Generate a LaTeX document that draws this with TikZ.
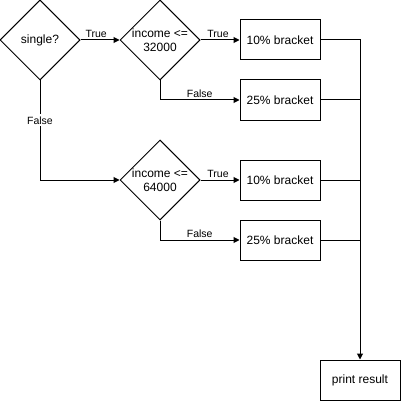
\documentclass[tikz,border=0pt]{standalone}
\usepackage{fontspec}
\setmainfont{Liberation Sans}
\usetikzlibrary{shapes.geometric,arrows.meta}

\begin{document}
\begin{tikzpicture}[x=1pt,y=1pt,line width=1pt,
decision/.style={diamond,draw,minimum width=80pt,minimum height=80pt,
inner sep=-6pt,align=center,font=\fontsize{12}{14}\selectfont},
bracket/.style={rectangle,draw,minimum width=80pt,minimum height=40pt,
font=\fontsize{12}{14}\selectfont},
lbl/.style={font=\fontsize{10.5}{12}\selectfont,inner sep=2pt},
arr/.style={-{Triangle[length=6pt,width=6pt]}}]
\useasboundingbox (0,0) rectangle (401,-401);

% decisions
\node[decision] (single) at (40,-40) {single?};
\node[decision] (low) at (160,-40) {income <=\\32000};
\node[decision] (high) at (160,-180) {income <=\\64000};

% tax brackets
\node[bracket] (lowten) at (280,-40) {10\% bracket};
\node[bracket] (lowtwentyfive) at (280,-100) {25\% bracket};
\node[bracket] (highten) at (280,-180) {10\% bracket};
\node[bracket] (hightwentyfive) at (280,-240) {25\% bracket};

\node[bracket] (result) at (360,-380) {print result};
\coordinate (join) at (360,-40);

% branches
\draw[arr] (single.east) -- node[lbl,above,pos=0.4] {True} (low.west);
\draw[arr] (single.south) |- node[lbl,fill=white,pos=0.2] {False} (high.west);
\draw[arr] (low.east) -- node[lbl,above,pos=0.45] {True} (lowten.west);
\draw[arr] (low.south) |- node[lbl,above,pos=0.75] {False} (lowtwentyfive.west);
\draw[arr] (high.east) -- node[lbl,above,pos=0.45] {True} (highten.west);
\draw[arr] (high.south) |- node[lbl,above,pos=0.75] {False} (hightwentyfive.west);

% collect results
\draw[arr] (lowten.east) -- (join) -- (result.north);
\draw (lowtwentyfive.east) -- (lowtwentyfive.east -| join);
\draw (highten.east) -- (highten.east -| join);
\draw (hightwentyfive.east) -- (hightwentyfive.east -| join);
\end{tikzpicture}
\end{document}
